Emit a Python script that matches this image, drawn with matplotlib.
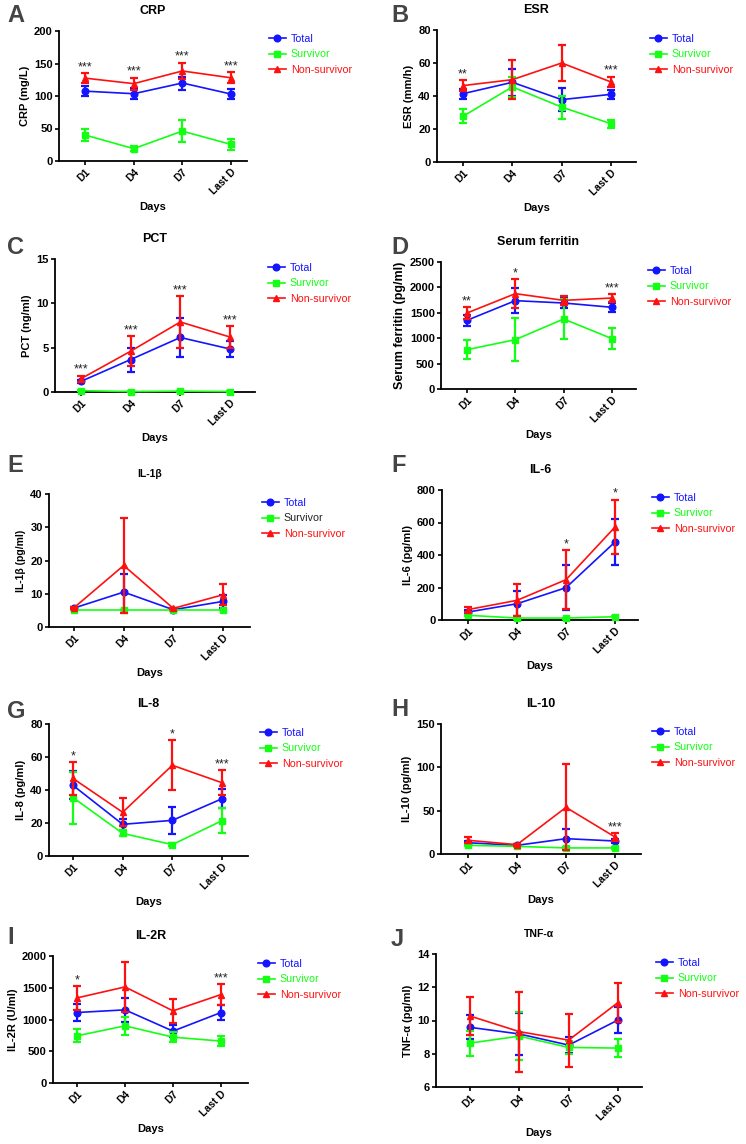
import matplotlib
matplotlib.use("Agg")
import matplotlib.pyplot as plt
from matplotlib.lines import Line2D

plt.rcParams['font.family'] = ['Liberation Sans', 'DejaVu Sans']

days = ["D1", "D4", "D7", "Last D"]
series_names = ["Total", "Survivor", "Non-survivor"]

# A CRP
crp_total = [107.5, 103.5, 120, 103]
crp_total_err = [7.5, 8.5, 10, 8]
crp_surv = [40, 19, 46, 25.5]
crp_surv_err = [9, 3.5, 16.5, 8.5]
crp_non = [127.5, 119, 138.5, 128]
crp_non_err = [7.5, 9, 12.5, 8.5]
crp_stars = ["***", "***", "***", "***"]

# B ESR
esr_total = [41.4, 48.3, 37.8, 41]
esr_total_err = [3, 8, 6.8, 2.8]
esr_surv = [27.7, 45.5, 33.3, 23.2]
esr_surv_err = [4.2, 6, 7, 2.5]
esr_non = [46.3, 49.9, 60, 48.5]
esr_non_err = [3.2, 12, 11, 3.2]
esr_stars = ["**", "", "", "***"]

# C PCT
pct_total = [1.2, 3.66, 6.15, 4.85]
pct_total_err = [0.2, 1.35, 2.2, 0.95]
pct_surv = [0.15, 0.05, 0.1, 0.05]
pct_surv_err = [0.05, 0.03, 0.05, 0.03]
pct_non = [1.5, 4.6, 7.9, 6.2]
pct_non_err = [0.35, 1.7, 2.9, 1.2]
pct_stars = ["***", "***", "***", "***"]

# D Serum ferritin
fer_total = [1352, 1739, 1693, 1608]
fer_total_err = [110, 250, 95, 90]
fer_surv = [774, 971, 1378, 991]
fer_surv_err = [190, 420, 400, 205]
fer_non = [1496, 1877, 1745, 1791]
fer_non_err = [110, 280, 85, 75]
fer_stars = ["**", "*", "", "***"]

# E IL-1beta
il1b_total = [5.7, 10.5, 5.2, 7.7]
il1b_total_err = [0.3, 5.5, 0.2, 1.9]
il1b_surv = [5, 5, 5, 5]
il1b_surv_err = [0, 0, 0, 0]
il1b_non = [5.8, 18.5, 5.6, 9.7]
il1b_non_err = [0.3, 14.2, 0.2, 3.2]
il1b_stars = ["", "", "", ""]

# F IL-6
il6_total = [49, 100, 199, 480]
il6_total_err = [10, 76, 140, 140]
il6_surv = [29, 12, 12, 20]
il6_surv_err = [4, 3, 3, 4]
il6_non = [64, 121, 248, 572]
il6_non_err = [15, 98, 180, 168]
il6_stars = ["", "", "*", "*"]

# G IL-8
il8_total = [42.8, 19.2, 21.6, 34.7]
il8_total_err = [8.5, 3.4, 8.3, 5.7]
il8_surv = [35.4, 13.7, 6.9, 21.4]
il8_surv_err = [15.8, 1.8, 0.8, 7.4]
il8_non = [47, 26.5, 55, 44.4]
il8_non_err = [10, 8.5, 15.3, 7.6]
il8_stars = ["*", "", "*", "***"]

# H IL-10
il10_total = [13, 10, 17.7, 15]
il10_total_err = [2, 1, 10.8, 2]
il10_surv = [10, 8.8, 7, 7]
il10_surv_err = [1, 0.8, 0.8, 0.8]
il10_non = [15.8, 10.8, 53.8, 19.6]
il10_non_err = [3.5, 1, 49.5, 4.6]
il10_stars = ["", "", "", "***"]

# I IL-2R
il2r_total = [1110, 1152, 817, 1110]
il2r_total_err = [128, 188, 90, 118]
il2r_surv = [743, 900, 722, 660]
il2r_surv_err = [105, 141, 81, 81]
il2r_non = [1340, 1513, 1136, 1393]
il2r_non_err = [188, 393, 194, 165]
il2r_stars = ["*", "", "", "***"]

# J TNF-alpha
tnf_total = [9.59, 9.19, 8.52, 10.03]
tnf_total_err = [0.73, 1.26, 0.47, 0.77]
tnf_surv = [8.64, 9.06, 8.38, 8.34]
tnf_surv_err = [0.75, 1.44, 0.38, 0.52]
tnf_non = [10.27, 9.33, 8.82, 11.08]
tnf_non_err = [1.13, 2.4, 1.6, 1.2]
tnf_stars = ["", "", "", ""]

colors = ["#1414ff", "#14ff14", "#ff1010"]
markers = ["o", "s", "^"]

W, H = 746, 1144
fig = plt.figure(figsize=(W / 100, H / 100), dpi=100)

panels = [
    dict(letter="A", title="CRP", ylabel="CRP (mg/L)", yticks=[0, 50, 100, 150, 200],
         data=[(crp_total, crp_total_err), (crp_surv, crp_surv_err), (crp_non, crp_non_err)],
         stars=crp_stars, box=(59, 247, 31, 161, 85, 231), lpos=(7, 16), leg=(269, 39), ts=9, ys=8),
    dict(letter="B", title="ESR", ylabel="ESR (mm/h)", yticks=[0, 20, 40, 60, 80],
         data=[(esr_total, esr_total_err), (esr_surv, esr_surv_err), (esr_non, esr_non_err)],
         stars=esr_stars, box=(437, 636, 30, 162, 463, 611), lpos=(391, 15), leg=(650, 39), ts=9, ys=8),
    dict(letter="C", title="PCT", ylabel="PCT (ng/ml)", yticks=[0, 5, 10, 15],
         data=[(pct_total, pct_total_err), (pct_surv, pct_surv_err), (pct_non, pct_non_err)],
         stars=pct_stars, box=(55, 255, 259, 392, 81, 230), lpos=(7, 247), leg=(268, 268), ts=9, ys=8),
    dict(letter="D", title="Serum ferritin", ylabel="Serum ferritin (pg/ml)",
         yticks=[0, 500, 1000, 1500, 2000, 2500],
         data=[(fer_total, fer_total_err), (fer_surv, fer_surv_err), (fer_non, fer_non_err)],
         stars=fer_stars, box=(441, 636, 262, 389, 467, 612), lpos=(391, 248), leg=(648, 271), ts=9, ys=9),
    dict(letter="E", title="IL-1β", ylabel="IL-1β (pg/ml)", yticks=[0, 10, 20, 30, 40],
         data=[(il1b_total, il1b_total_err), (il1b_surv, il1b_surv_err), (il1b_non, il1b_non_err)],
         stars=il1b_stars, box=(49, 250, 494, 627, 74, 223), lpos=(7, 465), leg=(262, 503), ts=7.5, ys=7.5,
         surv_text="#222222"),
    dict(letter="F", title="IL-6", ylabel="IL-6 (pg/ml)", yticks=[0, 200, 400, 600, 800],
         data=[(il6_total, il6_total_err), (il6_surv, il6_surv_err), (il6_non, il6_non_err)],
         stars=il6_stars, box=(442, 638, 490, 620, 468, 615), lpos=(391, 465), leg=(652, 498), ts=9, ys=8),
    dict(letter="G", title="IL-8", ylabel="IL-8 (pg/ml)", yticks=[0, 20, 40, 60, 80],
         data=[(il8_total, il8_total_err), (il8_surv, il8_surv_err), (il8_non, il8_non_err)],
         stars=il8_stars, box=(49, 248, 724, 856, 73, 222), lpos=(7, 712), leg=(260, 733), ts=9, ys=8),
    dict(letter="H", title="IL-10", ylabel="IL-10 (pg/ml)", yticks=[0, 50, 100, 150],
         data=[(il10_total, il10_total_err), (il10_surv, il10_surv_err), (il10_non, il10_non_err)],
         stars=il10_stars, box=(441, 641, 724, 854, 468, 615), lpos=(391, 710), leg=(652, 732), ts=9, ys=8),
    dict(letter="I", title="IL-2R", ylabel="IL-2R (U/ml)", yticks=[0, 500, 1000, 1500, 2000],
         data=[(il2r_total, il2r_total_err), (il2r_surv, il2r_surv_err), (il2r_non, il2r_non_err)],
         stars=il2r_stars, box=(53, 248, 956, 1083, 77, 221), lpos=(7, 938), leg=(258, 964), ts=9, ys=8),
    dict(letter="J", title="TNF-α", ylabel="TNF-α (pg/ml)", yticks=[6, 8, 10, 12, 14],
         data=[(tnf_total, tnf_total_err), (tnf_surv, tnf_surv_err), (tnf_non, tnf_non_err)],
         stars=tnf_stars, box=(436, 642, 954, 1087, 470, 618), lpos=(391, 940), leg=(656, 963), ts=7.5, ys=8),
]

x = list(range(len(days)))

for p in panels:
    left, right, top, bottom, d1, dl = p["box"]
    ax = fig.add_axes([left / W, 1 - bottom / H, (right - left) / W, (bottom - top) / H])
    u = (dl - d1) / 3.0
    ax.set_xlim(-(d1 - left) / u, 3 + (right - dl) / u)
    yt = p["yticks"]
    ax.set_ylim(yt[0], yt[-1])
    ax.set_yticks(yt)
    ax.set_xticks(x)
    ax.set_xticklabels(days, rotation=45, ha="right", rotation_mode="anchor")
    for side in ("top", "right"):
        ax.spines[side].set_visible(False)
    for side in ("left", "bottom"):
        ax.spines[side].set_linewidth(1.3)
    ax.tick_params(direction="out", length=3, width=1.2, labelsize=7.5, pad=1.5)
    ax.tick_params(axis="y", labelsize=8)
    for lab in ax.get_xticklabels() + ax.get_yticklabels():
        lab.set_fontweight("bold")
    handles = []
    for i, (vals, errs) in enumerate(p["data"]):
        ax.errorbar(x, vals, yerr=errs, color=colors[i], marker=markers[i], markersize=4.8,
                    linewidth=1.2, elinewidth=1.6, capsize=2.8, capthick=1.6, zorder=3 + i,
                    clip_on=False)
        handles.append(Line2D([], [], color=colors[i], marker=markers[i], markersize=4.8, linewidth=1.2))
    tops = [max(vv[k] + ee[k] for (vv, ee) in p["data"]) for k in range(4)]
    for k, s in enumerate(p["stars"]):
        if s:
            ax.annotate(s, (k, tops[k]), xytext=(0, 0), textcoords="offset points",
                        ha="center", va="bottom", fontsize=9, color="#222222")
    ax.set_title(p["title"], fontsize=p["ts"], fontweight="bold", pad=12)
    ax.set_ylabel(p["ylabel"], fontsize=p["ys"], fontweight="bold", labelpad=3)
    ax.set_xlabel("Days", fontsize=8, fontweight="bold", labelpad=4)
    lx, ly = p["leg"]
    leg = ax.legend(handles, series_names, loc="upper left", bbox_to_anchor=(lx / W, 1 - (ly - 5) / H),
                    bbox_transform=fig.transFigure, frameon=False, fontsize=7.7, borderpad=0,
                    handlelength=1.55, handletextpad=0.5, labelspacing=0.5, borderaxespad=0)
    tcols = list(colors)
    if "surv_text" in p:
        tcols[1] = p["surv_text"]
    for t, c in zip(leg.get_texts(), tcols):
        t.set_color(c)
    fig.text(p["lpos"][0] / W, 1 - p["lpos"][1] / H, p["letter"], fontsize=17, fontweight="bold",
             color="#444444", ha="left", va="center")

fig.savefig("out.png", dpi=100)
